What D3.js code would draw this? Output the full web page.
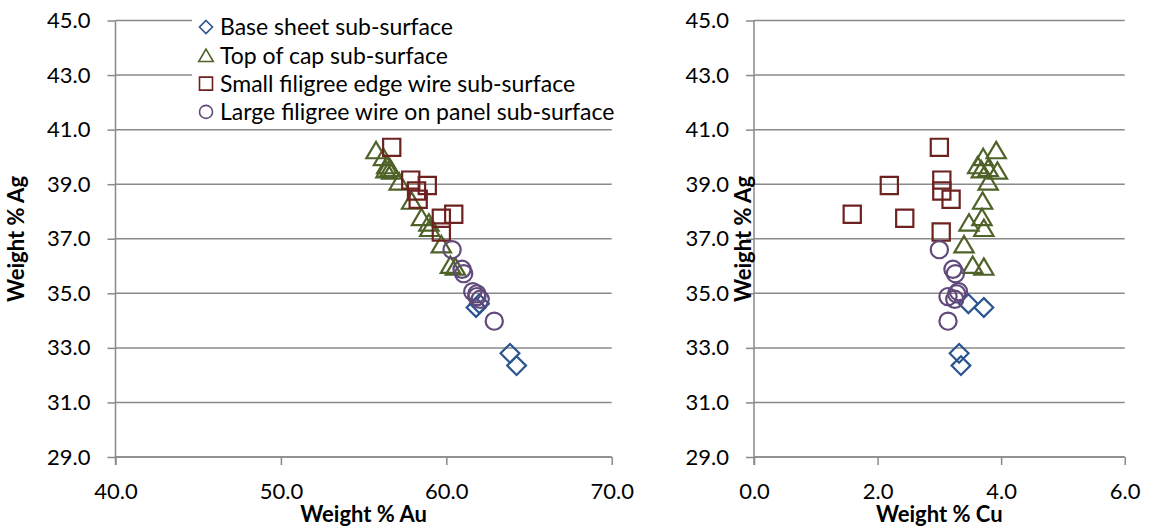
<!DOCTYPE html>
<html>
<head>
<meta charset="utf-8">
<script src="https://cdn.jsdelivr.net/npm/d3@7"></script>
<style>
	body { margin: 0; background: #fff; }
	svg { display: block; font-family: Lato, "Open Sans", sans-serif; }
	.grid line { stroke: #8a8a8a; stroke-width: 1.5px; }
	.axis path, .axis line { stroke: #8a8a8a; stroke-width: 1.5px; }
	.axis text { font-size: 22px; fill: #000; }
	.title { font-size: 22px; font-weight: bold; }
	.legend text { font-size: 23px; }
</style>
</head>
<body>
<div id="chart"></div>
<script>
// series names as in the legend
var seriesNames = [
	'Base sheet sub-surface',
	'Top of cap sub-surface',
	'Small filigree edge wire sub-surface',
	'Large filigree wire on panel sub-surface'
];

// each row: [weight % Au, weight % Cu, weight % Ag]
var baseSheet = [
	[63.85, 3.32, 32.80], [64.25, 3.35, 32.35], [61.80, 3.72, 34.48], [62.00, 3.47, 34.62]
];
var topOfCap = [
	[55.75, 3.92, 40.25], [56.20, 3.71, 40.00], [56.40, 3.62, 39.70], [56.60, 3.79, 39.60],
	[56.70, 3.94, 39.50], [56.35, 3.68, 39.55], [57.15, 3.79, 39.10], [57.90, 3.70, 38.40],
	[58.50, 3.69, 37.80], [58.95, 3.48, 37.60], [59.00, 3.72, 37.40], [59.70, 3.40, 36.80],
	[60.25, 3.54, 36.05], [60.55, 3.72, 35.98]
];
var smallFiligree = [
	[56.70, 3.00, 40.35], [57.85, 3.04, 39.15], [58.85, 2.19, 38.95], [58.20, 3.04, 38.75],
	[58.30, 3.19, 38.45], [60.45, 1.59, 37.90], [59.70, 2.44, 37.75], [59.70, 3.03, 37.25]
];
var largeFiligree = [
	[60.35, 3.00, 36.60], [60.95, 3.22, 35.88], [61.05, 3.26, 35.72], [61.60, 3.31, 35.06],
	[61.85, 3.28, 34.98], [61.85, 3.14, 34.88], [62.05, 3.25, 34.78], [62.90, 3.14, 33.98]
];

var agTicks = [29, 31, 33, 35, 37, 39, 41, 43, 45];
var auTicks = [40, 50, 60, 70];
var cuTicks = [0, 2, 4, 6];

var series = [baseSheet, topOfCap, smallFiligree, largeFiligree];
var colors = ['#2a5590', '#4f6228', '#6e2220', '#604a7b'];
var shapes = ['diamond', 'triangle', 'square', 'circle'];

var width = 1150, height = 526;

var svg = d3.select('#chart').append('svg')
	.attr('width', width)
	.attr('height', height);

function markerPath(shape, s) {
	// s = half size of the marker
	if (shape === 'diamond') return 'M0,' + (-s) + 'L' + s + ',0L0,' + s + 'L' + (-s) + ',0Z';
	if (shape === 'triangle') return 'M0,' + (-s * 0.95) + 'L' + (s * 1.12) + ',' + (s * 0.95) + 'L' + (-s * 1.12) + ',' + (s * 0.95) + 'Z';
	if (shape === 'square') return 'M' + (-s) + ',' + (-s) + 'H' + s + 'V' + s + 'H' + (-s) + 'Z';
	return 'M' + s + ',0A' + s + ',' + s + ' 0 1,1 ' + (-s) + ',0A' + s + ',' + s + ' 0 1,1 ' + s + ',0Z';
}

function drawPanel(cfg) {
	var x = d3.scaleLinear().domain(cfg.xDomain).range([cfg.left, cfg.right]);
	var y = d3.scaleLinear().domain([29, 45]).range([457, 20.5]);

	var g = svg.append('g');

	// horizontal gridlines
	g.append('g')
		.attr('class', 'grid')
		.selectAll('line')
		.data(agTicks)
		.enter().append('line')
		.attr('x1', cfg.left)
		.attr('x2', cfg.right)
		.attr('y1', function(d) { return y(d); })
		.attr('y2', function(d) { return y(d); });

	g.append('g')
		.attr('class', 'axis')
		.attr('transform', 'translate(' + cfg.left + ',0)')
		.call(d3.axisLeft(y).tickValues(agTicks).tickSize(8).tickPadding(17).tickFormat(d3.format('.1f')))
		.call(function(a) { a.select('.domain').attr('d', 'M0,20.5V465'); });

	g.append('g')
		.attr('class', 'axis')
		.attr('transform', 'translate(0,457)')
		.call(d3.axisBottom(x).tickValues(cfg.xTicks).tickSize(8).tickPadding(18).tickFormat(d3.format('.1f')))
		.call(function(a) { a.select('.domain').attr('d', 'M' + cfg.left + ',0H' + cfg.right); });

	g.selectAll('.axis text').attr('font-family', 'Lato');

	// legend box goes under the marks but over the gridlines
	if (cfg.legend) cfg.legend(g);

	series.forEach(function(rows, i) {
		g.append('g')
			.selectAll('path')
			.data(rows)
			.enter().append('path')
			.attr('transform', function(d) { return 'translate(' + x(d[cfg.xIndex]) + ',' + y(d[2]) + ')'; })
			.attr('d', markerPath(shapes[i], i === 0 ? 9.4 : 8.6))
			.attr('fill', 'none')
			.attr('stroke', colors[i])
			.attr('stroke-width', 2.2);
	});

	g.append('text')
		.attr('class', 'title')
		.attr('x', (cfg.left + cfg.right) / 2)
		.attr('y', 522)
		.attr('text-anchor', 'middle')
		.text(cfg.xTitle);

	g.append('text')
		.attr('class', 'title')
		.attr('transform', 'translate(' + cfg.yTitleX + ',239) rotate(-90)')
		.attr('text-anchor', 'middle')
		.text('Weight % Ag');
}

function drawLegend(g) {
	var lg = g.append('g').attr('class', 'legend');
	lg.append('rect')
		.attr('x', 192).attr('y', 6)
		.attr('width', 430).attr('height', 120)
		.attr('fill', '#fff');
	var item = lg.selectAll('g')
		.data(seriesNames)
		.enter().append('g')
		.attr('transform', function(d, i) { return 'translate(206,' + (27 + i * 28.3) + ')'; });
	item.append('path')
		.attr('d', function(d, i) { return markerPath(shapes[i], 6.5); })
		.attr('fill', 'none')
		.attr('stroke', function(d, i) { return colors[i]; })
		.attr('stroke-width', 1.6);
	item.append('text')
		.attr('x', 14)
		.attr('dy', '0.36em')
		.text(function(d) { return d; });
}

drawPanel({ left: 115.5, right: 611.7, xDomain: [40, 70], xTicks: auTicks, xIndex: 0,
	xTitle: 'Weight % Au', yTitleX: 24, legend: drawLegend });
drawPanel({ left: 754, right: 1124.7, xDomain: [0, 6], xTicks: cuTicks, xIndex: 1,
	xTitle: 'Weight % Cu', yTitleX: 751 });
</script>
</body>
</html>
